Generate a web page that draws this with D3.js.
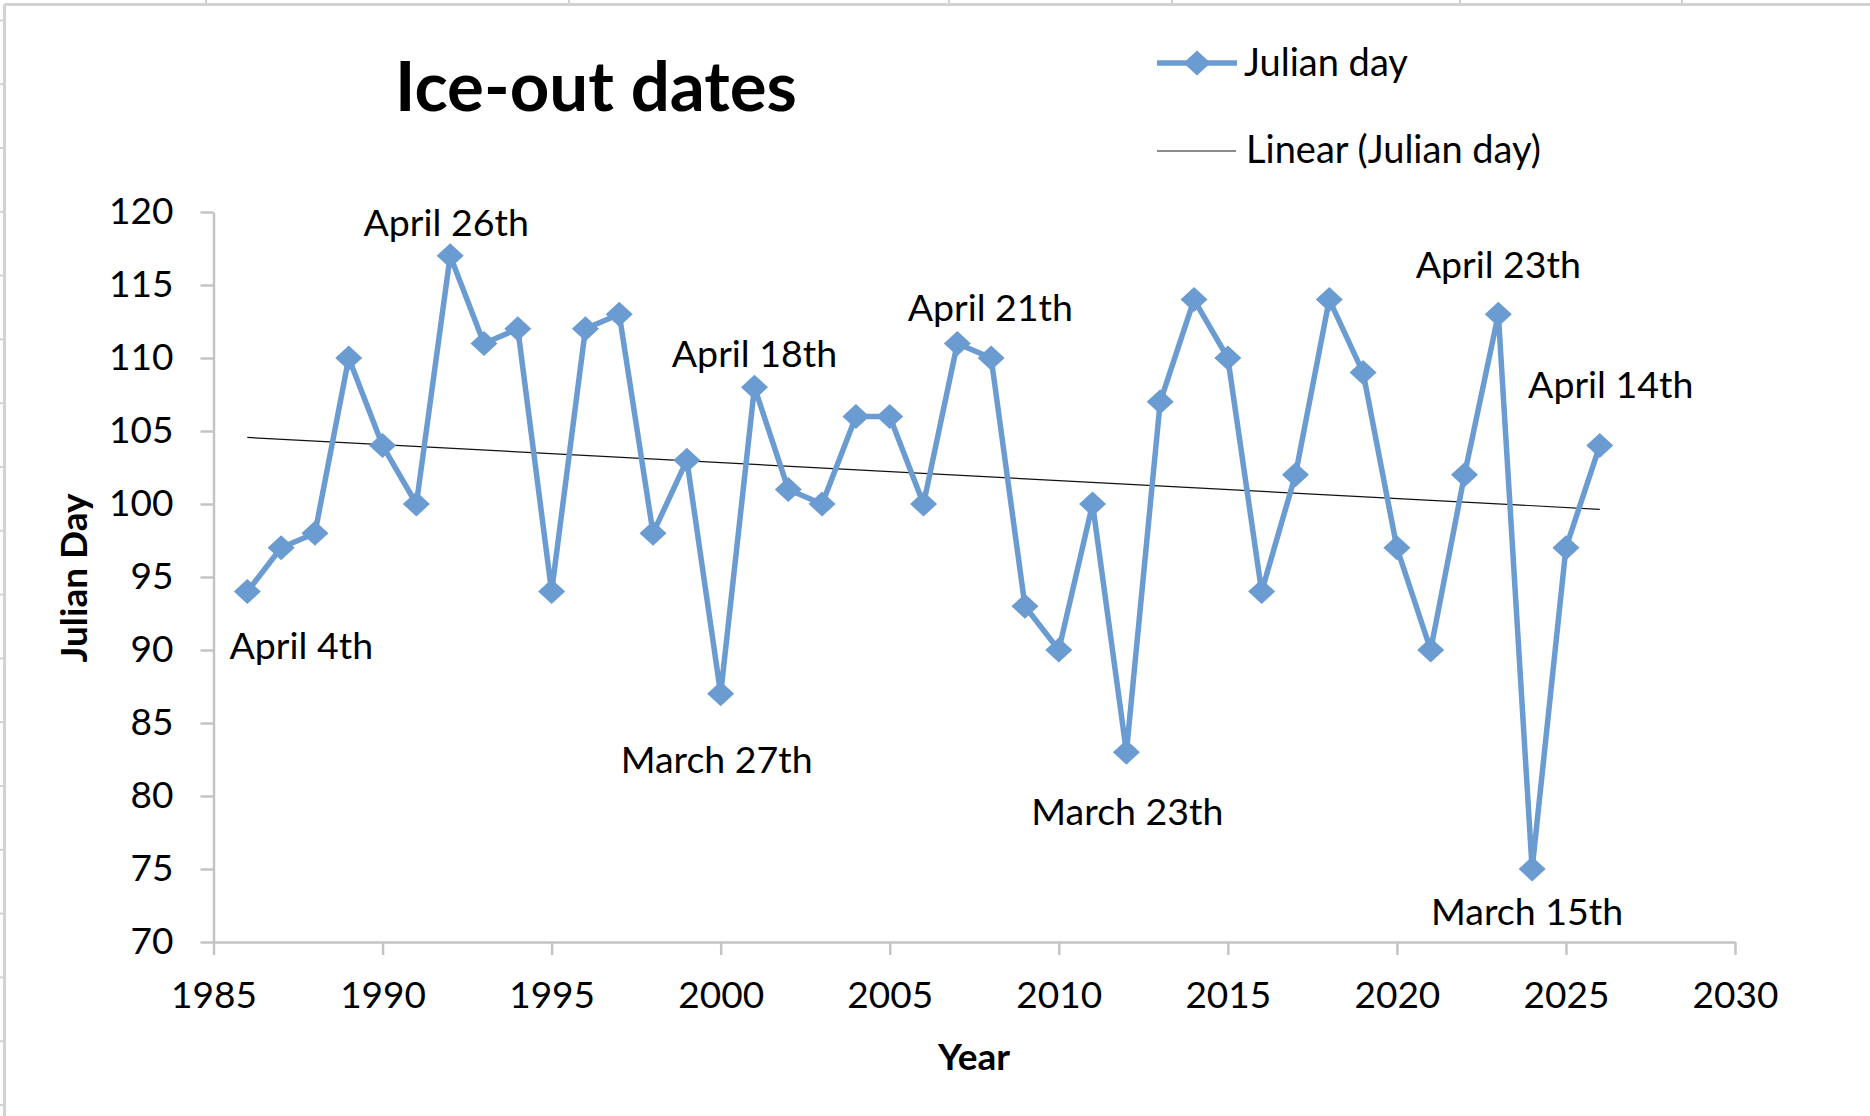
<!DOCTYPE html>
<html>
<head>
<meta charset="utf-8">
<script src="https://cdn.jsdelivr.net/npm/d3@7"></script>
<style>
  body { margin: 0; background: #fff; }
  svg { display: block; font-family: Lato, "Open Sans", sans-serif; }
  .tick text { font-size: 37px; fill: #000; }
  .tick line, .domain { stroke: #c4c4c4; stroke-width: 2.5; }
</style>
</head>
<body>
<svg id="chart"></svg>
<script>
// chart data
var years = [1986, 1987, 1988, 1989, 1990, 1991, 1992, 1993, 1994, 1995,
             1996, 1997, 1998, 1999, 2000, 2001, 2002, 2003, 2004, 2005,
             2006, 2007, 2008, 2009, 2010, 2011, 2012, 2013, 2014, 2015,
             2016, 2017, 2018, 2019, 2020, 2021, 2022, 2023, 2024, 2025, 2026];
var julianDay = [94, 97, 98, 110, 104, 100, 117, 111, 112, 94,
                 112, 113, 98, 103, 87, 108, 101, 100, 106, 106,
                 100, 111, 110, 93, 90, 100, 83, 107, 114, 110,
                 94, 102, 114, 109, 97, 90, 102, 113, 75, 97, 104];
var xTicks = [1985, 1990, 1995, 2000, 2005, 2010, 2015, 2020, 2025, 2030];
var yTicks = [70, 75, 80, 85, 90, 95, 100, 105, 110, 115, 120];
var labelYears = [1986, 1992, 2000, 2001, 2007, 2012, 2023, 2024, 2026];
var labelText = ["April 4th", "April 26th", "March 27th", "April 18th", "April 21th",
                 "March 23th", "April 23th", "March 15th", "April 14th"];

var width = 1870, height = 1116;
var blue = "#6a9bd1";

var svg = d3.select("#chart")
    .attr("width", width)
    .attr("height", height);

//spreadsheet grid peeking round the chart edge
var grid = svg.append("g").attr("stroke", "#d2d2d2");
grid.append("line").attr("x1", 4.5).attr("y1", 4.5).attr("x2", width).attr("y2", 4.5).attr("stroke-width", 3);
grid.append("line").attr("x1", 4.5).attr("y1", 4.5).attr("x2", 4.5).attr("y2", height).attr("stroke-width", 3);
[206, 569, 949, 1172, 1460, 1682].forEach(function(cx) {
    grid.append("line").attr("x1", cx).attr("x2", cx).attr("y1", 0).attr("y2", 4).attr("stroke-width", 2);
});
for (var ry = 20.4; ry < height; ry += 63.8) {
    grid.append("line").attr("x1", 0).attr("x2", 4).attr("y1", ry).attr("y2", ry).attr("stroke-width", 2);
}

//scales
var x = d3.scaleLinear().domain([1985, 2030]).range([213.5, 1735]);
var y = d3.scaleLinear().domain([70, 120]).range([942, 212]);

//axes
svg.append("g")
    .attr("transform", "translate(0,942)")
    .call(d3.axisBottom(x).tickValues(xTicks).tickFormat(d3.format("d"))
        .tickSize(13).tickSizeOuter(0).tickPadding(27));

svg.append("g")
    .attr("transform", "translate(213.5,0)")
    .call(d3.axisLeft(y).tickValues(yTicks)
        .tickSize(13).tickSizeOuter(0).tickPadding(27));

svg.selectAll(".tick text").attr("font-family", "Lato, sans-serif");

var points = years.map(function(yr, i) { return { year: yr, value: julianDay[i] }; });

//linear trend (least squares)
var mx = d3.mean(years), my = d3.mean(julianDay);
var sxy = d3.sum(points, function(d) { return (d.year - mx) * (d.value - my); });
var sxx = d3.sum(points, function(d) { return (d.year - mx) * (d.year - mx); });
var slope = sxy / sxx, icept = my - slope * mx;
var x0 = d3.min(years), x1 = d3.max(years);

svg.append("line")
    .attr("x1", x(x0)).attr("y1", y(icept + slope * x0))
    .attr("x2", x(x1)).attr("y2", y(icept + slope * x1))
    .attr("stroke", "#111").attr("stroke-width", 1.2);

//series line
var line = d3.line()
    .x(function(d) { return x(d.year); })
    .y(function(d) { return y(d.value); });

svg.append("path")
    .datum(points)
    .attr("fill", "none")
    .attr("stroke", blue)
    .attr("stroke-width", 5.5)
    .attr("stroke-linejoin", "round")
    .attr("d", line);

//diamond markers
var diamond = {
    draw: function(ctx, size) {
        var w = 13.5, h = 12.5;
        ctx.moveTo(0, -h); ctx.lineTo(w, 0); ctx.lineTo(0, h); ctx.lineTo(-w, 0); ctx.closePath();
    }
};
svg.selectAll(".marker")
    .data(points)
    .enter().append("path")
    .attr("class", "marker")
    .attr("fill", blue)
    .attr("transform", function(d) { return "translate(" + x(d.year) + "," + y(d.value) + ")"; })
    .attr("d", d3.symbol().type(diamond));

//data labels
var offsets = {1986: [54, 67], 1992: [-4, -20], 2000: [-4, 79], 2001: [0, -20], 2007: [33, -22],
               2012: [1, 73], 2023: [0, -36], 2024: [-5, 56], 2026: [11, -48]};
labelYears.forEach(function(yr, i) {
    var v = julianDay[years.indexOf(yr)];
    svg.append("text")
        .attr("x", x(yr) + offsets[yr][0])
        .attr("y", y(v) + offsets[yr][1])
        .attr("text-anchor", "middle")
        .attr("font-size", 37.5)
        .text(labelText[i]);
});

//titles
svg.append("text")
    .attr("x", 596).attr("y", 111)
    .attr("text-anchor", "middle")
    .attr("font-size", 69).attr("font-weight", "bold")
    .text("Ice-out dates");

svg.append("text")
    .attr("x", 974).attr("y", 1070)
    .attr("text-anchor", "middle")
    .attr("font-size", 37).attr("font-weight", "bold")
    .text("Year");

svg.append("text")
    .attr("transform", "translate(87,578) rotate(-90)")
    .attr("text-anchor", "middle")
    .attr("font-size", 37).attr("font-weight", "bold")
    .text("Julian Day");

//legend
var leg = svg.append("g");
leg.append("line").attr("x1", 1157).attr("x2", 1237).attr("y1", 63).attr("y2", 63)
    .attr("stroke", blue).attr("stroke-width", 5.5);
leg.append("path").attr("fill", blue)
    .attr("transform", "translate(1197,63)")
    .attr("d", d3.symbol().type(diamond));
leg.append("text").attr("x", 1244).attr("y", 76).attr("font-size", 38).text("Julian day");
leg.append("line").attr("x1", 1157).attr("x2", 1236).attr("y1", 151).attr("y2", 151)
    .attr("stroke", "#666").attr("stroke-width", 1.5);
leg.append("text").attr("x", 1246).attr("y", 163).attr("font-size", 38).text("Linear (Julian day)");
</script>
</body>
</html>
